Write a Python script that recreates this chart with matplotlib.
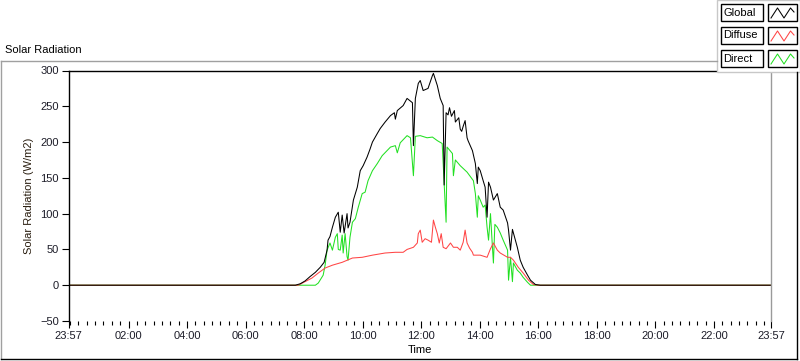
import matplotlib.pyplot as plt
from matplotlib.lines import Line2D
from matplotlib.patches import Rectangle

plt.rcParams['font.family'] = ['Liberation Sans', 'DejaVu Sans']

# readings taken off the chart (time of day, W/m2)
global_t = ["23:57", "07:42", "07:52", "08:02", "08:12", "08:23", "08:33", "08:41", "08:47", "08:49",
            "08:53", "08:58", "09:04", "09:10", "09:14", "09:18", "09:22", "09:28", "09:30", "09:34",
            "09:41", "09:49", "09:55", "10:01", "10:09", "10:15", "10:20", "10:30", "10:36", "10:46",
            "10:57", "11:05", "11:07", "11:11", "11:23", "11:31", "11:42", "11:44", "11:48", "11:54",
            "11:58", "12:04", "12:14", "12:23", "12:25", "12:33", "12:39", "12:45", "12:47", "12:49",
            "12:51", "12:55", "12:58", "13:02", "13:08", "13:10", "13:17", "13:20", "13:23", "13:26",
            "13:30", "13:34", "13:36", "13:45", "13:51", "13:55", "13:57", "14:01", "14:07", "14:11",
            "14:15", "14:18", "14:22", "14:28", "14:36", "14:42", "14:48", "14:57", "14:59", "15:03",
            "15:07", "15:09", "15:17", "15:23", "15:29", "15:38", "15:44", "15:54", "16:04", "23:57"]
global_v = [0, 0, 2, 6, 12, 18, 25, 32, 49, 63,
            68, 81, 95, 102, 74, 98, 73, 100, 80, 88,
            119, 137, 160, 167, 179, 190, 200, 212, 219, 228,
            237, 241, 232, 244, 251, 261, 255, 195, 261, 282,
            286, 272, 275, 293, 296, 279, 261, 251, 140, 191,
            241, 238, 248, 236, 244, 228, 234, 218, 215, 222,
            230, 206, 202, 188, 170, 142, 165, 160, 146, 137,
            95, 144, 137, 119, 128, 109, 105, 87, 77, 49,
            78, 73, 53, 35, 25, 14, 7, 1, 0, 0]

diffuse_t = ["23:57", "07:48", "08:16", "08:29", "08:43", "08:58", "09:18", "09:39", "09:59", "10:20",
             "10:46", "11:07", "11:23", "11:31", "11:44", "11:52", "11:54", "11:58", "12:02", "12:08",
             "12:14", "12:21", "12:25", "12:29", "12:33", "12:37", "12:41", "12:45", "12:51", "13:00",
             "13:06", "13:14", "13:20", "13:26", "13:30", "13:34", "13:39", "13:45", "13:47", "14:01",
             "14:15", "14:22", "14:28", "14:36", "14:42", "14:57", "15:03", "15:09", "15:19", "15:29",
             "15:40", "15:50", "16:00", "23:57"]
diffuse_v = [0, 0, 10, 17, 24, 28, 32, 38, 39, 42,
             45, 46, 46, 50, 53, 59, 72, 77, 60, 65,
             63, 60, 91, 81, 72, 59, 72, 53, 51, 59,
             53, 53, 49, 60, 77, 59, 52, 46, 42, 42,
             39, 51, 59, 49, 45, 39, 39, 35, 25, 17,
             7, 1, 0, 0]

direct_t = ["23:57", "08:23", "08:29", "08:39", "08:43", "08:47", "08:53", "08:58", "09:04", "09:08",
            "09:10", "09:14", "09:18", "09:20", "09:24", "09:28", "09:30", "09:34", "09:39", "09:45",
            "09:51", "09:59", "10:05", "10:11", "10:20", "10:30", "10:40", "10:57", "11:07", "11:11",
            "11:17", "11:31", "11:38", "11:44", "11:48", "11:58", "12:12", "12:23", "12:33", "12:43",
            "12:51", "12:53", "13:04", "13:06", "13:10", "13:20", "13:34", "13:47", "13:51", "13:55",
            "13:57", "14:01", "14:07", "14:11", "14:15", "14:18", "14:22", "14:26", "14:28", "14:31",
            "14:36", "14:42", "14:48", "14:57", "14:59", "15:03", "15:07", "15:09", "15:17", "15:23",
            "15:29", "15:38", "15:44", "23:57"]
direct_v = [0, 0, 3, 14, 28, 49, 59, 49, 67, 72,
            50, 49, 70, 45, 72, 40, 35, 67, 88, 93,
            109, 128, 130, 146, 160, 170, 181, 193, 195, 185,
            199, 209, 206, 153, 208, 209, 206, 207, 202, 198,
            88, 193, 184, 153, 175, 167, 158, 146, 128, 95,
            125, 119, 109, 112, 81, 63, 100, 53, 31, 85,
            81, 73, 63, 49, 7, 39, 5, 31, 21, 17,
            11, 4, 0, 0]

tick_labels = ["23:57", "02:00", "04:00", "06:00", "08:00", "10:00", "12:00",
               "14:00", "16:00", "18:00", "20:00", "22:00", "23:57"]


def to_minutes(times):
    m = [int(s[:2]) * 60 + int(s[3:]) for s in times]
    m[0] -= 1440  # first point is 23:57 of the day before
    return m


W, H = 800, 361
fig = plt.figure(figsize=(W / 100, H / 100), dpi=100)
ax = fig.add_axes([68.5 / W, (H - 321) / H, (771 - 68.5) / W, (321 - 70.5) / H])

lw = 0.75
ax.plot(to_minutes(direct_t), direct_v, color='#22e022', lw=lw)
ax.plot(to_minutes(diffuse_t), diffuse_v, color='#ff4545', lw=lw)
ax.plot(to_minutes(global_t), global_v, color='black', lw=lw)

ax.set_xlim(-3, 1437)
ax.set_ylim(-50, 300)
ax.set_yticks(range(-50, 301, 50))

major = [-3] + list(range(120, 1321, 120)) + [1437]
ax.set_xticks(major)
ax.set_xticklabels(tick_labels)
minor = [k * 120 / 7 for k in range(84) if k % 7 != 0 and k * 120 / 7 < 1437] + [0]
ax.set_xticks(minor, minor=True)

ax.tick_params(axis='both', which='major', length=5, width=0.8, labelsize=8, color='black',
               labelcolor='#1c1c28', pad=2)
ax.tick_params(axis='x', which='minor', length=3, width=0.8, color='black')

ax.spines['left'].set_color('black')
ax.spines['top'].set_color('black')
ax.spines['right'].set_color('#9a9a9a')
ax.spines['bottom'].set_visible(False)
for s in ax.spines.values():
    s.set_linewidth(1)

ax.set_ylabel('Solar Radiation (W/m2)', fontsize=8, color='#2a1e10', labelpad=4)
ax.set_xlabel('Time', fontsize=8, color='black', labelpad=3)


def fx(x):
    return x / W


def fy(y):
    return 1 - y / H


# outer frame of the chart control
fig.add_artist(Line2D([fx(1), fx(717)], [fy(61), fy(61)], color='#a0a0a0', lw=1))
fig.add_artist(Line2D([fx(1), fx(1)], [fy(61), fy(359)], color='#a0a0a0', lw=1))
fig.add_artist(Line2D([fx(1), fx(797)], [fy(359), fy(359)], color='black', lw=1))
fig.add_artist(Line2D([fx(797), fx(797)], [fy(72), fy(359)], color='black', lw=1))
fig.text(fx(5), fy(50), 'Solar Radiation', fontsize=8, va='center', ha='left', color='black')

# legend panel
fig.add_artist(Rectangle((fx(717), fy(72)), fx(83), 72 / H, facecolor='white',
                         edgecolor='#c8c8c8', lw=1))
names = ['Global', 'Diffuse', 'Direct']
colors = ['black', '#ff4545', '#22e022']
tops = [4, 27, 50]
for name, c, t in zip(names, colors, tops):
    fig.add_artist(Rectangle((fx(720.5), fy(t + 17)), fx(42.5), 17 / H, facecolor='white',
                             edgecolor='black', lw=1))
    fig.text(fx(723), fy(t + 8.5), name, fontsize=8, va='center', ha='left', color='black')
    fig.add_artist(Rectangle((fx(767.5), fy(t + 17)), fx(29.5), 17 / H, facecolor='white',
                             edgecolor='black', lw=1))
    xs = [771, 777.5, 784, 790.5, 794]
    ys = [t + 14, t + 4, t + 14, t + 4, t + 8]
    fig.add_artist(Line2D([fx(v) for v in xs], [fy(v) for v in ys], color=c, lw=0.75))

fig.savefig('out.png', dpi=100)
